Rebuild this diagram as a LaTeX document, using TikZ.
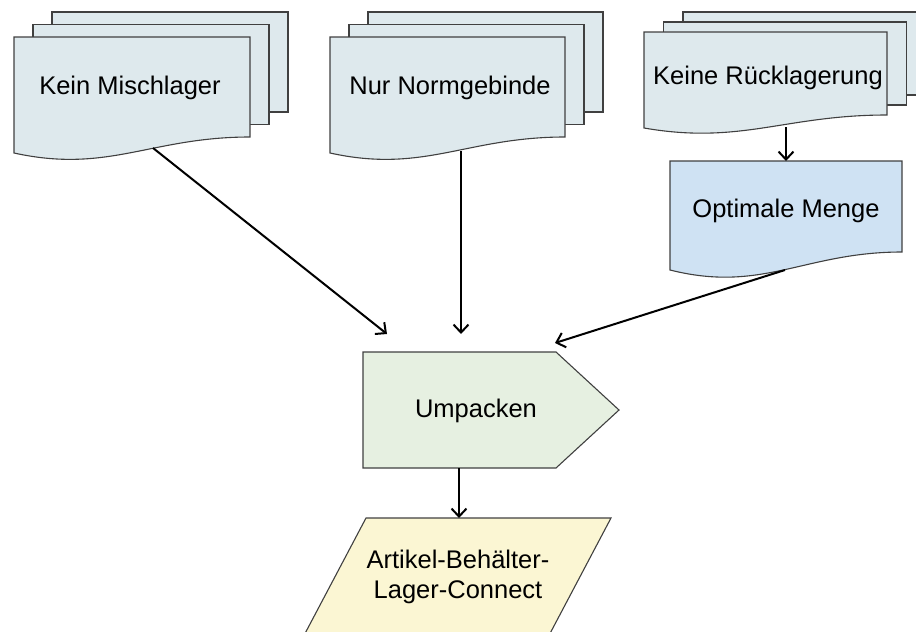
\documentclass[tikz,border=0pt]{standalone}
\usepackage{fontspec}
\setmainfont{Liberation Sans}
\usetikzlibrary{arrows.meta}

\definecolor{docfill}{RGB}{222,233,237}
\definecolor{optfill}{RGB}{207,226,243}
\definecolor{procfill}{RGB}{230,240,225}
\definecolor{iofill}{RGB}{251,246,211}
\definecolor{shapeedge}{RGB}{64,64,64}

\tikzset{
  sheet/.style={fill=docfill, draw=shapeedge, line width=1.1pt, line join=miter},
  label/.style={font=\fontsize{25.5}{30}\selectfont, text=black, inner sep=0pt, align=center},
  flow/.style={draw=black, line width=2pt, -{Straight Barb[length=8pt,width=15pt,line width=2pt]}},
}

% single document sheet with a wavy lower edge: x0 y0 x1 yRight yLeft fill
\newcommand\docsheet[6]{%
  \filldraw[sheet, fill=#6] (#1,#2) -- (#3,#2) -- (#3,#4)
    .. controls ({#1+0.58*(#3-#1)},#4) and ({#1+0.4*(#3-#1)},{#5+1.3*(#5-#4)}) .. (#1,#5) -- cycle;}

% stacked documents: x0 y0 x1 yRight yLeft dx dy
\newcommand\docstack[7]{%
  \filldraw[sheet] ({#1+2*#6},{#2-2*#7}) rectangle ({#3+2*#6},{#4-2*#7});
  \filldraw[sheet] ({#1+#6},{#2-#7}) rectangle ({#3+#6},{#4-#7});
  \docsheet{#1}{#2}{#3}{#4}{#5}{docfill}}

\begin{document}
\begin{tikzpicture}[x=1pt,y=-1pt]
  \useasboundingbox (0,0) rectangle (916,632);
  \clip (0,0) rectangle (916,632);

  % document stacks
  \docstack{14}{37}{250}{137}{153}{19}{12.5}
  \docstack{330}{37}{565}{137}{153}{19}{12.5}
  \docstack{644}{32}{887}{115}{128}{19.5}{10}
  \docsheet{670}{161}{902}{252}{270}{optfill}

  % process (pentagon) and data (parallelogram)
  \filldraw[sheet, fill=procfill] (363,352) -- (556,352) -- (619,410) -- (556,468) -- (363,468) -- cycle;
  \filldraw[sheet, fill=iofill] (366,518) -- (611,518) -- (536,660) -- (291,660) -- cycle;

  % texts
  \node[label] (kein)  at (130,88)  {Kein Mischlager};
  \node[label] (nur)   at (450,88)  {Nur Normgebinde};
  \node[label] (keine) at (768,78)  {Keine Rücklagerung};
  \node[label] (opt)   at (786,211) {Optimale Menge};
  \node[label] (ump)   at (476,411) {Umpacken};
  \node[label] (abl)   at (458,577) {Artikel-Behälter-\\Lager-Connect};

  % connector ends on the shape outlines
  \coordinate (keinOut) at (153,148);
  \coordinate (nurOut)  at (461,151);
  \coordinate (keineOut) at (786,127);
  \coordinate (optIn)   at (786,161);
  \coordinate (optOut)  at (785,270);
  \coordinate (umpInL)  at (387,334);
  \coordinate (umpInM)  at (461,334);
  \coordinate (umpInR)  at (555,343);
  \coordinate (umpOut)  at (459,468);
  \coordinate (ablIn)   at (459,518);

  % connectors
  \draw[flow] (keinOut) -- (umpInL);
  \draw[flow] (nurOut) -- (umpInM);
  \draw[flow] (keineOut) -- (optIn);
  \draw[flow] (optOut) -- (umpInR);
  \draw[flow] (umpOut) -- (ablIn);
\end{tikzpicture}
\end{document}
